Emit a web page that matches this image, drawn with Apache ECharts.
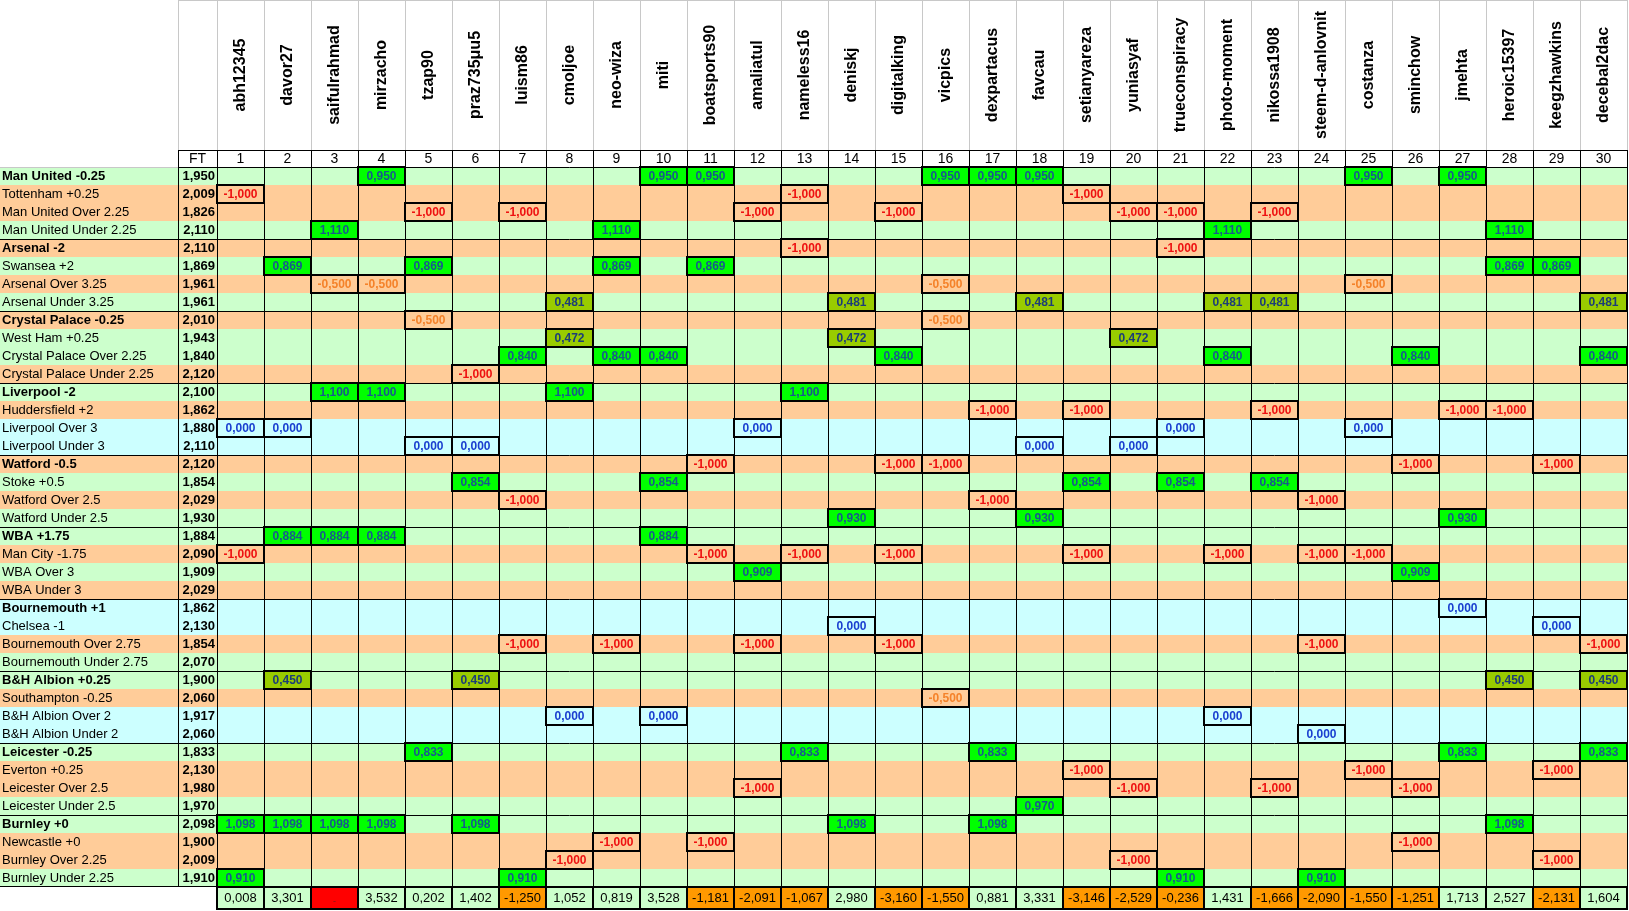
<!DOCTYPE html>
<html><head><meta charset="utf-8">
<script src="https://cdn.jsdelivr.net/npm/echarts@6/dist/echarts.min.js"></script>
<style>html,body{margin:0;padding:0;background:#fff}#c{width:1629px;height:911px}</style>
</head><body><div id="c"></div><script>
// ---------- DATA ----------
const players = ['abh12345','davor27','saifulrahmad','mirzacho','tzap90','praz735μu5','luism86','cmoljoe','neo-wiza','miti',
 'boatsports90','amaliatul','nameless16','deniskj','digitalking','vicpics','dexpartacus','favcau','setianyareza','yuniasyaf',
 'trueconspiracy','photo-moment','nikossa1908','steem-d-anlovnit','costanza','sminchow','jmehta','heroic15397','keegzhawkins','decebal2dac'];
const playerNumbers = players.map((p, i) => String(i + 1));

const rowLabels = ['Man United -0.25','Tottenham +0.25','Man United Over 2.25','Man United Under 2.25',
 'Arsenal -2','Swansea +2','Arsenal Over 3.25','Arsenal Under 3.25',
 'Crystal Palace -0.25','West Ham +0.25','Crystal Palace Over 2.25','Crystal Palace Under 2.25',
 'Liverpool -2','Huddersfield +2','Liverpool Over 3','Liverpool Under 3',
 'Watford -0.5','Stoke +0.5','Watford Over 2.5','Watford Under 2.5',
 'WBA +1.75','Man City -1.75','WBA Over 3','WBA Under 3',
 'Bournemouth +1','Chelsea -1','Bournemouth Over 2.75','Bournemouth Under 2.75',
 'B&H Albion +0.25','Southampton -0.25','B&H Albion Over 2','B&H Albion Under 2',
 'Leicester -0.25','Everton +0.25','Leicester Over 2.5','Leicester Under 2.5',
 'Burnley +0','Newcastle +0','Burnley Over 2.25','Burnley Under 2.25'];

// W = won, L = lost, P = push (stake returned)
const outcomes = ['W','L','L','W', 'L','W','L','W', 'L','W','W','L', 'W','L','P','P', 'L','W','L','W',
 'W','L','W','L', 'P','P','L','W', 'W','L','P','P', 'W','L','L','W', 'W','L','L','W'];

const ftOdds = [1.950,2.009,1.826,2.110, 2.110,1.869,1.961,1.961, 2.010,1.943,1.840,2.120, 2.100,1.862,1.880,2.110,
 2.120,1.854,2.029,1.930, 1.884,2.090,1.909,2.029, 1.862,2.130,1.854,2.070, 1.900,2.060,1.917,2.060,
 1.833,2.130,1.980,1.970, 2.098,1.900,2.009,1.910];

// picks per row: [player number, result]
const picks = [
 [[4,0.950],[10,0.950],[11,0.950],[16,0.950],[17,0.950],[18,0.950],[25,0.950],[27,0.950]],
 [[1,-1],[13,-1],[19,-1]],
 [[5,-1],[7,-1],[12,-1],[15,-1],[20,-1],[21,-1],[23,-1]],
 [[3,1.110],[9,1.110],[22,1.110],[28,1.110]],
 [[13,-1],[21,-1]],
 [[2,0.869],[5,0.869],[9,0.869],[11,0.869],[28,0.869],[29,0.869]],
 [[3,-0.5],[4,-0.5],[16,-0.5],[25,-0.5]],
 [[8,0.481],[14,0.481],[18,0.481],[22,0.481],[23,0.481],[30,0.481]],
 [[5,-0.5],[16,-0.5]],
 [[8,0.472],[14,0.472],[20,0.472]],
 [[7,0.840],[9,0.840],[10,0.840],[15,0.840],[22,0.840],[26,0.840],[30,0.840]],
 [[6,-1]],
 [[3,1.100],[4,1.100],[8,1.100],[13,1.100]],
 [[17,-1],[19,-1],[23,-1],[27,-1],[28,-1]],
 [[1,0],[2,0],[12,0],[21,0],[25,0]],
 [[5,0],[6,0],[18,0],[20,0]],
 [[11,-1],[15,-1],[16,-1],[26,-1],[29,-1]],
 [[6,0.854],[10,0.854],[19,0.854],[21,0.854],[23,0.854]],
 [[7,-1],[17,-1],[24,-1]],
 [[14,0.930],[18,0.930],[27,0.930]],
 [[2,0.884],[3,0.884],[4,0.884],[10,0.884]],
 [[1,-1],[11,-1],[13,-1],[15,-1],[19,-1],[22,-1],[24,-1],[25,-1]],
 [[12,0.909],[26,0.909]],
 [],
 [[27,0]],
 [[14,0],[29,0]],
 [[7,-1],[9,-1],[12,-1],[15,-1],[24,-1],[30,-1]],
 [],
 [[2,0.450],[6,0.450],[28,0.450],[30,0.450]],
 [[16,-0.5]],
 [[8,0],[10,0],[22,0]],
 [[24,0]],
 [[5,0.833],[13,0.833],[17,0.833],[27,0.833],[30,0.833]],
 [[19,-1],[25,-1],[29,-1]],
 [[12,-1],[20,-1],[23,-1],[26,-1]],
 [[18,0.970]],
 [[1,1.098],[2,1.098],[3,1.098],[4,1.098],[6,1.098],[14,1.098],[17,1.098],[28,1.098]],
 [[9,-1],[11,-1],[26,-1]],
 [[8,-1],[20,-1],[29,-1]],
 [[1,0.910],[7,0.910],[21,0.910],[24,0.910]]
];

// column totals (null = disqualified / red cell)
const totals = [0.008,3.301,null,3.532,0.202,1.402,-1.250,1.052,0.819,3.528,
 -1.181,-2.091,-1.067,2.980,-3.160,-1.550,0.881,3.331,-3.146,-2.529,
 -0.236,1.431,-1.666,-2.090,-1.550,-1.251,1.713,2.527,-2.131,1.604];

// ---------- STYLE ----------
const FONT = '"Liberation Sans", Arial, sans-serif';
const NARROW = '"Liberation Sans Narrow", "Arial Narrow", "Liberation Sans", sans-serif';
const ROWBG = {W:'#ccffcc', L:'#ffcc99', P:'#ccffff'};
const GRAY = '#c8c8c8';
const fmt = v => v.toFixed(3).replace('.', ',');

function band(api, c, r) {
  const p = api.coord([c, r]);
  const s = api.size([1, 1]);
  return {x: Math.round(p[0] - s[0] / 2), y: Math.round(p[1] - s[1] / 2), w: Math.round(s[0]), h: Math.round(s[1])};
}
function hl(x1, x2, y, color, lw) {
  const yy = Math.round(y) + 0.5;
  return {type:'line', shape:{x1:x1, y1:yy, x2:x2, y2:yy}, style:{stroke:color, lineWidth:lw || 1}};
}
function vl(x, y1, y2, color, lw) {
  const xx = Math.round(x) + 0.5;
  return {type:'line', shape:{x1:xx, y1:y1, x2:xx, y2:y2}, style:{stroke:color, lineWidth:lw || 1}};
}
function tx(x, y, text, font, fill, align, rot) {
  return {type:'text', x:x, y:y, rotation: rot || 0,
    style:{text:text, font:font, fill:fill, align:align, verticalAlign:'middle', textAlign:align, textVerticalAlign:'middle'}};
}

// ---------- GRIDS / AXES ----------
const grids = [
  {left:0,   top:167, width:178,  height:720}, // 0 row labels
  {left:178, top:167, width:39,   height:720}, // 1 FT odds
  {left:217, top:167, width:1410, height:720}, // 2 picks
  {left:217, top:0,   width:1410, height:150}, // 3 player names
  {left:217, top:150, width:1410, height:17},  // 4 player numbers
  {left:178, top:150, width:39,   height:17},  // 5 FT header
  {left:217, top:887, width:1410, height:23},  // 6 totals
  {left:178, top:0,   width:39,   height:150}  // 7 FT name header (blank)
];
const xCats = [['label'], ['FT'], players, players, players, ['FT'], players, ['FT']];
const yCats = [rowLabels, rowLabels, rowLabels, ['name'], ['num'], ['num'], ['total'], ['name']];
const xAxes = xCats.map((d, i) => ({type:'category', gridIndex:i, data:d, show:false}));
const yAxes = yCats.map((d, i) => ({type:'category', gridIndex:i, data:d, show:false, inverse:true}));

const series = [];

// row labels
series.push({type:'custom', xAxisIndex:0, yAxisIndex:0, z:1, silent:true,
  data: rowLabels.map((l, i) => [0, i]),
  renderItem(params, api) {
    const r = api.value(1), b = band(api, 0, r);
    return {type:'group', children:[
      {type:'rect', shape:{x:b.x, y:b.y, width:b.w, height:b.h}, style:{fill:ROWBG[outcomes[r]]}},
      tx(b.x + 2, b.y + b.h / 2 + 0.5, rowLabels[r], (r % 4 === 0 ? 'bold ' : '') + '13px ' + FONT, '#000', 'left')
    ]};
  }});
// FT odds
series.push({type:'custom', xAxisIndex:1, yAxisIndex:1, z:1, silent:true,
  data: ftOdds.map((v, i) => [0, i]),
  renderItem(params, api) {
    const r = api.value(1), b = band(api, 0, r);
    return {type:'group', children:[
      {type:'rect', shape:{x:b.x, y:b.y, width:b.w, height:b.h}, style:{fill:ROWBG[outcomes[r]]}},
      tx(b.x + b.w - 2, b.y + b.h / 2 + 0.5, fmt(ftOdds[r]), 'bold 13px ' + FONT, '#000', 'right')
    ]};
  }});
// body background cells
const cellData = [];
rowLabels.forEach((l, r) => players.forEach((p, c) => cellData.push([c, r])));
series.push({type:'custom', xAxisIndex:2, yAxisIndex:2, z:1, silent:true, data: cellData,
  renderItem(params, api) {
    const c = api.value(0), r = api.value(1), b = band(api, c, r);
    return {type:'rect', shape:{x:b.x, y:b.y, width:b.w, height:b.h}, style:{fill:ROWBG[outcomes[r]]}};
  }});

// grid lines of label / FT / body
function bodyLines(xi, yi, nCols, vColor, leftLine) {
  return {type:'custom', xAxisIndex:xi, yAxisIndex:yi, z:2, silent:true, data:[[0, 0]],
    renderItem(params, api) {
      const cs = params.coordSys, ch = [];
      const s = api.size([1, 1]);
      for (let c = leftLine ? 0 : 1; c <= nCols; c++) {
        const x = c < nCols ? api.coord([c, 0])[0] - s[0] / 2 : cs.x + cs.width;
        ch.push(vl(x, cs.y, cs.y + cs.height, vColor));
      }
      for (let r = 0; r < rowLabels.length; r += 4) {
        const y = api.coord([0, r])[1] - s[1] / 2;
        ch.push(hl(cs.x, cs.x + cs.width, y, (r === 0 && xi === 0) ? GRAY : '#000'));
      }
      ch.push(hl(cs.x, cs.x + cs.width, cs.y + cs.height - 1, '#000'));
      return {type:'group', children:ch};
    }};
}
series.push(bodyLines(0, 0, 1, '#000', false));
series.push(bodyLines(1, 1, 1, '#000', true));
series.push(bodyLines(2, 2, players.length, '#000', true));

// picks
const pickData = [];
picks.forEach((row, r) => row.forEach(p => pickData.push([p[0] - 1, r, p[1]])));
series.push({type:'custom', xAxisIndex:2, yAxisIndex:2, z:3, silent:true, data: pickData,
  renderItem(params, api) {
    const c = api.value(0), r = api.value(1), v = api.value(2), b = band(api, c, r);
    const half = v > 0 && Math.abs(v - (ftOdds[r] - 1)) > 0.02;
    let fill = ROWBG[outcomes[r]], color;
    if (v > 0) { fill = half ? '#99cc00' : '#00ff00'; color = half ? '#1c3d78' : '#175a8c'; }
    else if (v === 0) color = '#1a3fd0';
    else if (v > -0.75) color = '#f5822a';
    else color = '#ee1111';
    return {type:'group', children:[
      {type:'rect', shape:{x:b.x, y:b.y, width:b.w, height:b.h}, style:{fill:fill, stroke:'#000', lineWidth:2}},
      tx(b.x + b.w / 2, b.y + b.h / 2 + 0.5, fmt(v), 'bold 12px ' + FONT, color, 'center')
    ]};
  }});

// player names header
series.push({type:'custom', xAxisIndex:3, yAxisIndex:3, z:1, silent:true,
  data: players.map((p, i) => [i, 0]),
  renderItem(params, api) {
    const c = api.value(0), b = band(api, c, 0);
    return {type:'group', children:[
      vl(b.x + b.w, b.y, b.y + b.h, GRAY),
      hl(b.x, b.x + b.w, b.y, GRAY),
      tx(b.x + b.w / 2, b.y + b.h / 2, players[c], 'bold 16px ' + FONT, '#000', 'center', Math.PI / 2)
    ]};
  }});
// FT name header cell (blank)
series.push({type:'custom', xAxisIndex:7, yAxisIndex:7, z:1, silent:true, data:[[0, 0]],
  renderItem(params, api) {
    const b = band(api, 0, 0);
    return {type:'group', children:[
      vl(b.x, b.y, b.y + b.h, GRAY), vl(b.x + b.w, b.y, b.y + b.h, GRAY), hl(b.x, b.x + b.w, b.y, GRAY)
    ]};
  }});
// player numbers row
series.push({type:'custom', xAxisIndex:4, yAxisIndex:4, z:1, silent:true,
  data: playerNumbers.map((n, i) => [i, 0]),
  renderItem(params, api) {
    const c = api.value(0), b = band(api, c, 0);
    return {type:'group', children:[
      hl(b.x, b.x + b.w + 1, b.y, '#000'),
      vl(b.x + b.w, b.y, b.y + b.h, '#000'),
      tx(b.x + b.w / 2, b.y + b.h / 2 + 1, playerNumbers[c], '14px ' + NARROW, '#000', 'center')
    ]};
  }});
// FT header
series.push({type:'custom', xAxisIndex:5, yAxisIndex:5, z:1, silent:true, data:[[0, 0]],
  renderItem(params, api) {
    const b = band(api, 0, 0);
    return {type:'group', children:[
      hl(b.x, b.x + b.w, b.y, '#000'), vl(b.x, b.y, b.y + b.h, '#000'), vl(b.x + b.w, b.y, b.y + b.h, '#000'),
      tx(b.x + b.w / 2, b.y + b.h / 2 + 1, 'FT', '14px ' + NARROW, '#000', 'center')
    ]};
  }});
// totals
series.push({type:'custom', xAxisIndex:6, yAxisIndex:6, z:3, silent:true,
  data: totals.map((v, i) => [i, 0]),
  renderItem(params, api) {
    const c = api.value(0), b = band(api, c, 0), v = totals[c];
    const fill = v === null ? '#ff0000' : (v < 0 ? '#ff9900' : '#ccffcc');
    return {type:'group', children:[
      {type:'rect', shape:{x:b.x, y:b.y, width:b.w, height:b.h - 1}, style:{fill:fill, stroke:'#000', lineWidth:2}},
      tx(b.x + b.w / 2, b.y + b.h / 2 + (v === null ? 3 : 0), v === null ? '-' : fmt(v),
         (v === null ? '9px ' : '13px ') + FONT, v === null ? '#7a1a1a' : '#000', 'center')
    ]};
  }});

const chart = echarts.init(document.getElementById('c'));
chart.setOption({animation:false, backgroundColor:'#ffffff', grid:grids, xAxis:xAxes, yAxis:yAxes, series:series});
</script></body></html>
